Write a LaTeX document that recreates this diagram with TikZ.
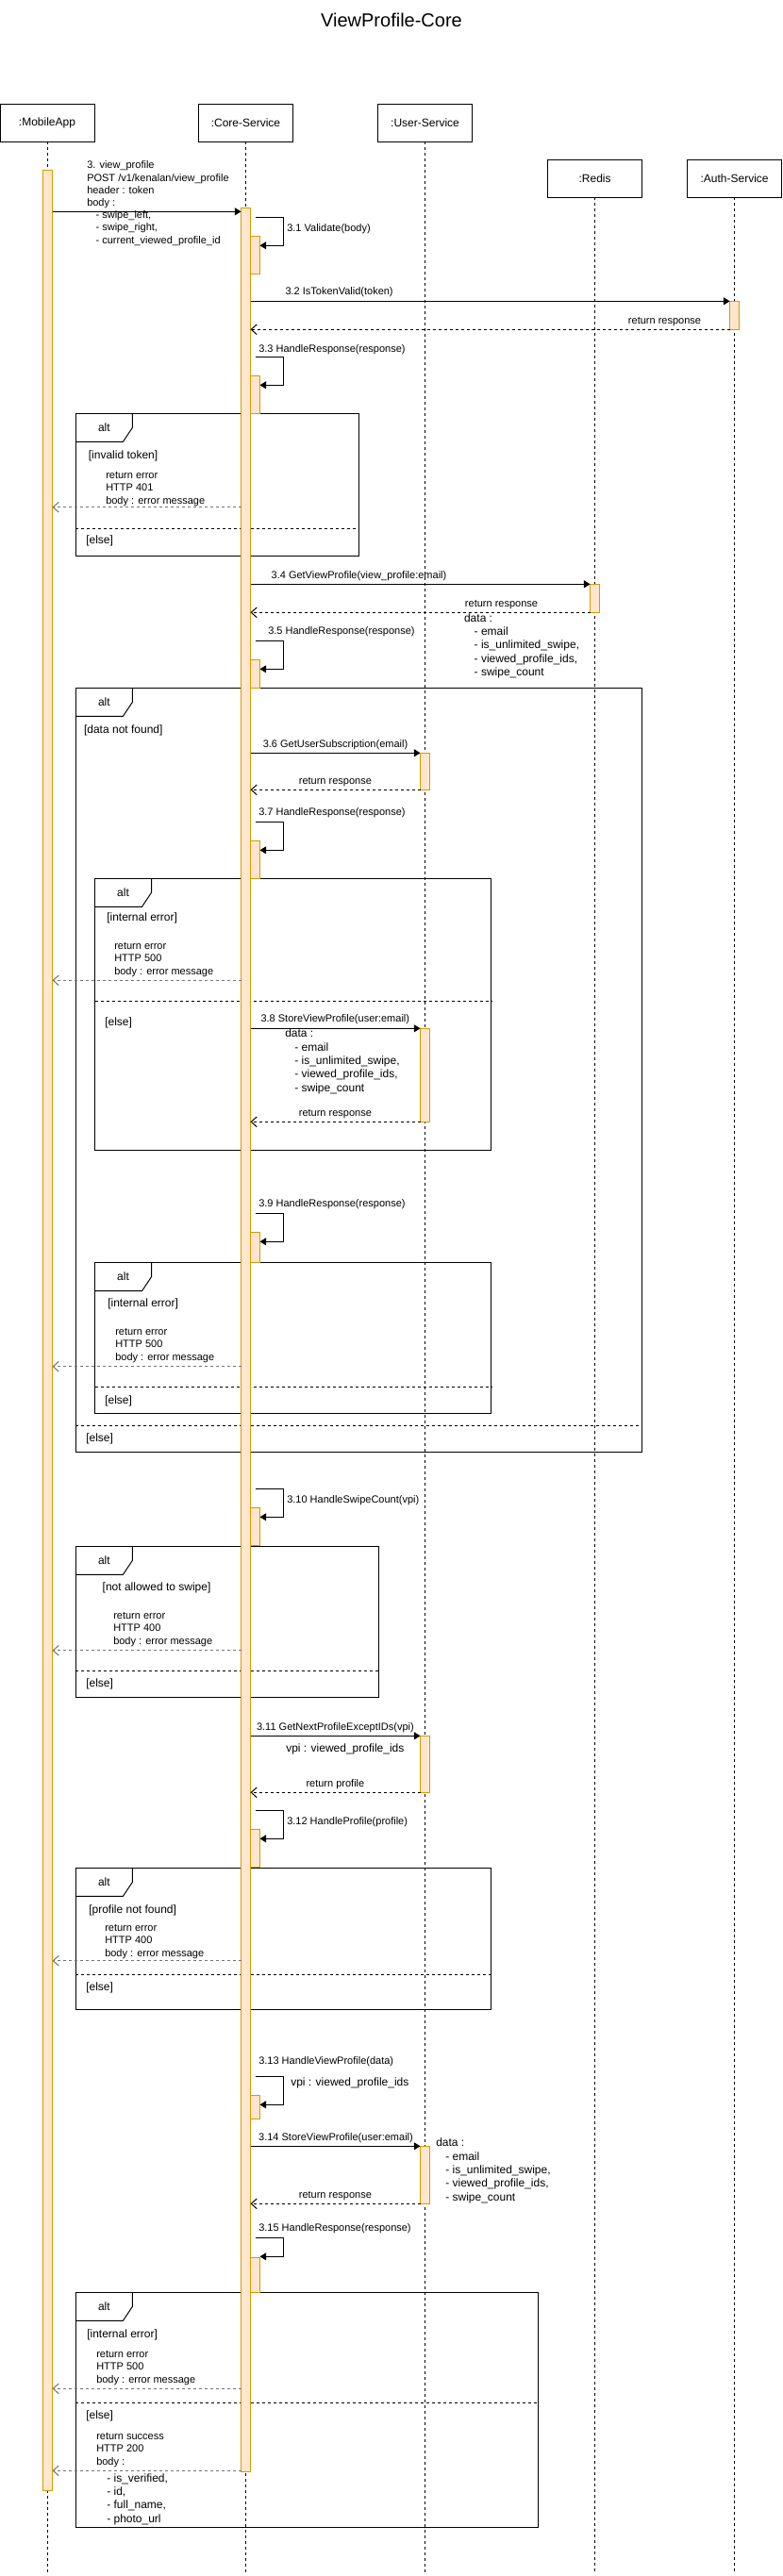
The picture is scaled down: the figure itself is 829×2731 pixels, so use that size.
\documentclass[tikz,border=0pt]{standalone}
\usepackage{fontspec}
\setmainfont{Liberation Sans}
\usetikzlibrary{arrows.meta}
\definecolor{barfill}{HTML}{FFE6CC}
\definecolor{barline}{HTML}{D79B00}
\newcommand\smallfnt{\fontsize{8.25}{9.9}\selectfont}
\newcommand\midfnt{\fontsize{9}{10.8}\selectfont}
\tikzset{
 participant/.style={draw, line width=0.75pt, fill=white, minimum width=75pt, minimum height=30pt, inner sep=0pt, outer sep=0pt, font=\midfnt},
 lifeline/.style={line width=0.75pt, dash pattern=on 2.25pt off 2.25pt},
 actbox/.style={draw=barline, fill=barfill, line width=0.75pt, minimum width=7.5pt, inner sep=0pt, outer sep=0pt, anchor=north west},
 call/.style={line width=0.75pt, -{Triangle[length=5pt,width=6pt]}},
 ret/.style={line width=0.75pt, dash pattern=on 2.25pt off 2.25pt, -{Straight Barb[length=4.5pt,width=8pt]}},
 reterr/.style={ret, draw=black!55},
 framebox/.style={draw, line width=0.75pt},
 divider/.style={line width=0.75pt, dash pattern=on 2.25pt off 2.25pt},
 lbl/.style={font=\smallfnt, inner sep=0pt, text height=6pt, text depth=1.7pt},
 lblb/.style={font=\midfnt, inner sep=0pt, text height=6.6pt, text depth=1.9pt},
}
\newcommand\actbar[4]{\node[actbox, minimum height={(#4-#3)*0.75pt}] (#1) at (#2,#3) {};}
\newcommand\altframe[6]{%
 \draw[framebox] (#2,#3) rectangle (#4,#5);
 \draw[framebox] (#2+60,#3) -- (#2+60,#3+15) -- (#2+50,#3+30) -- (#2,#3+30);
 \node[font=\midfnt, inner sep=0pt] (#1) at (#2+30,#3+14.5) {alt};
 \draw[divider] (#2,#6) -- (#4,#6);}
\newcommand\tlines[6]{%
 \foreach \t [count=\i from 0] in {#6} {\node[#5, anchor=west] (#1-\i) at (#2,#3+\i*#4) {\t};}}
\newcommand\selfcall[3]{\draw[call] (270.7,#2) -| (300.4,#3) -- (#1.east |- 0,#3);}
\begin{document}
\begin{tikzpicture}[x=0.75pt,y=-0.75pt]
\useasboundingbox (0,0) rectangle (829,2731);
\fill[white] (0,0) rectangle (829,2731);
% title
\node[font=\fontsize{15}{18}\selectfont, inner sep=0pt] (title) at (415,21) {ViewProfile-Core};
% participants
\node[participant] (pM) at (50,130) {:MobileApp};
\node[participant] (pC) at (260.5,130) {:Core-Service};
\node[participant] (pU) at (450.5,130) {:User-Service};
\node[participant] (pR) at (630.6,189.3) {:Redis};
\node[participant] (pA) at (778.6,189.3) {:Auth-Service};
% lifelines
\foreach \p in {pM,pC,pU,pR,pA} {\draw[lifeline] (\p.south) -- (\p.south |- 0,2728);}
% alt frames
\altframe{alt1}{80.4}{438.3}{380.8}{589.3}{560.3}
\altframe{alt2}{80.4}{729.3}{680.6}{1539.3}{1511.3}
\altframe{alt3}{100.5}{931.3}{520.9}{1219.3}{1061.3}
\altframe{alt4}{100.5}{1338.7}{520.9}{1498.3}{1470.3}
\altframe{alt5}{80.4}{1639.3}{401.4}{1799.3}{1771.3}
\altframe{alt6}{80.4}{1980.3}{520.9}{2130.3}{2093.3}
\altframe{alt7}{80.4}{2430.3}{570.6}{2679.3}{2547.3}
% activation bars
\actbar{mA}{45.5}{180.3}{2640.3}
\actbar{cM}{255.5}{220.3}{2620}
\actbar{c31}{265.5}{250}{290.3}
\actbar{c33}{265.5}{398.3}{438.3}
\actbar{c35}{265.5}{699.3}{729.3}
\actbar{c37}{265.5}{891.3}{931.3}
\actbar{c39}{265.5}{1306}{1338.7}
\actbar{c310}{265.5}{1598.3}{1638.3}
\actbar{c312}{265.5}{1939.3}{1979.3}
\actbar{c313}{265.5}{2221.3}{2246.3}
\actbar{c315}{265.5}{2393.3}{2430.3}
\actbar{aB}{773.6}{319.3}{349.3}
\actbar{rB}{625.6}{619.3}{649.3}
\actbar{u36}{445.5}{798.3}{837.3}
\actbar{u38}{445.5}{1090.3}{1189.3}
\actbar{u311}{445.5}{1840.3}{1900.3}
\actbar{u314}{445.5}{2275.3}{2336.3}
% 3. view_profile
\draw[call] (mA.east |- 0,224.3) -- (cM.west |- 0,224.3);
\tlines{m3}{92}{176}{13.2}{lbl}{{3. view\_profile}, {POST /v1/kenalan/view\_profile}, {header : token}, {body :}, {\hspace*{7pt}- swipe\_left,}, {\hspace*{7pt}- swipe\_right,}, {\hspace*{7pt}- current\_viewed\_profile\_id}}
% 3.1
\selfcall{c31}{230.3}{260.3}
\node[lbl, anchor=west] (l31) at (304,243) {3.1 Validate(body)};
% 3.2
\draw[call] (cM.east |- 0,319.3) -- (aB.west |- 0,319.3);
\node[lbl] (l32) at (359.6,310) {3.2 IsTokenValid(token)};
\draw[ret] (aB.west |- 0,349.3) -- (cM.east |- 0,349.3);
\node[lbl] (l32r) at (704.5,340.3) {return response};
% 3.3
\selfcall{c33}{378.3}{408.3}
\node[lbl, anchor=west] (l33) at (274,371) {3.3 HandleResponse(response)};
% alt 1
\node[lblb, anchor=west] (g1) at (93.6,483.7) {[invalid token]};
\tlines{e1}{112}{504.3}{13.5}{lbl}{return error, HTTP 401, body : error message}
\draw[reterr] (cM.west |- 0,537.7) -- (mA.east |- 0,537.7);
\node[lblb, anchor=west] (g1e) at (91,573.7) {[else]};
% 3.4
\draw[call] (cM.east |- 0,619.3) -- (rB.west |- 0,619.3);
\node[lbl] (l34) at (380.5,610.3) {3.4 GetViewProfile(view\_profile:email)};
\draw[ret] (rB.west |- 0,649.3) -- (cM.east |- 0,649.3);
\node[lbl] (l34r) at (531.5,640.3) {return response};
\tlines{d34}{491.8}{656}{14.3}{lblb}{{data :}, {\hspace*{8pt}- email}, {\hspace*{8pt}- is\_unlimited\_swipe,}, {\hspace*{8pt}- viewed\_profile\_ids,}, {\hspace*{8pt}- swipe\_count}}
% 3.5
\selfcall{c35}{679.3}{709.3}
\node[lbl, anchor=west] (l35) at (284,669.3) {3.5 HandleResponse(response)};
% alt 2
\node[lblb, anchor=west] (g2) at (88.8,774) {[data not found]};
\draw[call] (cM.east |- 0,798.3) -- (u36.west |- 0,798.3);
\node[lbl] (l36) at (355.5,789.3) {3.6 GetUserSubscription(email)};
\draw[ret] (u36.west |- 0,837.3) -- (cM.east |- 0,837.3);
\node[lbl] (l36r) at (355.4,828.3) {return response};
\selfcall{c37}{871.3}{901.3}
\node[lbl, anchor=west] (l37) at (274,861.3) {3.7 HandleResponse(response)};
% alt 3
\node[lblb, anchor=west] (g3) at (113,973.7) {[internal error]};
\tlines{e3}{121}{1003.3}{13.5}{lbl}{return error, HTTP 500, body : error message}
\draw[reterr] (cM.west |- 0,1039.3) -- (mA.east |- 0,1039.3);
\node[lblb, anchor=west] (g3e) at (111,1084.7) {[else]};
\draw[call] (cM.east |- 0,1090.3) -- (u38.west |- 0,1090.3);
\node[lbl] (l38) at (355.3,1081) {3.8 StoreViewProfile(user:email)};
\tlines{d38}{302}{1096.7}{14.3}{lblb}{{data :}, {\hspace*{7.5pt}- email}, {\hspace*{7.5pt}- is\_unlimited\_swipe,}, {\hspace*{7.5pt}- viewed\_profile\_ids,}, {\hspace*{7.5pt}- swipe\_count}}
\draw[ret] (u38.west |- 0,1189.3) -- (cM.east |- 0,1189.3);
\node[lbl] (l38r) at (355.4,1180.3) {return response};
% 3.9
\selfcall{c39}{1286.3}{1316.3}
\node[lbl, anchor=west] (l39) at (274,1276.3) {3.9 HandleResponse(response)};
% alt 4
\node[lblb, anchor=west] (g4) at (114,1382.7) {[internal error]};
\tlines{e4}{122}{1412.3}{13.5}{lbl}{return error, HTTP 500, body : error message}
\draw[reterr] (cM.west |- 0,1448.7) -- (mA.east |- 0,1448.7);
\node[lblb, anchor=west] (g4e) at (111,1485) {[else]};
\node[lblb, anchor=west] (g2e) at (91,1525) {[else]};
% 3.10
\selfcall{c310}{1578.3}{1608.3}
\node[lbl, anchor=west] (l310) at (304,1591) {3.10 HandleSwipeCount(vpi)};
% alt 5
\node[lblb, anchor=west] (g5) at (108.4,1683.7) {[not allowed to swipe]};
\tlines{e5}{120}{1713.3}{13.5}{lbl}{return error, HTTP 400, body : error message}
\draw[reterr] (cM.west |- 0,1749.7) -- (mA.east |- 0,1749.7);
\node[lblb, anchor=west] (g5e) at (91,1785) {[else]};
% 3.11
\draw[call] (cM.east |- 0,1840.3) -- (u311.west |- 0,1840.3);
\node[lbl] (l311) at (355.4,1831.3) {3.11 GetNextProfileExceptIDs(vpi)};
\node[lblb, anchor=west] (v311) at (303,1854.7) {vpi : viewed\_profile\_ids};
\draw[ret] (u311.west |- 0,1900.3) -- (cM.east |- 0,1900.3);
\node[lbl] (l311r) at (355.4,1891.3) {return profile};
% 3.12
\selfcall{c312}{1919.3}{1949.3}
\node[lbl, anchor=west] (l312) at (304,1932) {3.12 HandleProfile(profile)};
% alt 6
\node[lblb, anchor=west] (g6) at (94,2025) {[profile not found]};
\tlines{e6}{111}{2044.3}{13.5}{lbl}{return error, HTTP 400, body : error message}
\draw[reterr] (cM.west |- 0,2078.7) -- (mA.east |- 0,2078.7);
\node[lblb, anchor=west] (g6e) at (91,2107) {[else]};
% 3.13
\node[lbl, anchor=west] (l313) at (274,2186) {3.13 HandleViewProfile(data)};
\selfcall{c313}{2201.3}{2231.3}
\node[lblb, anchor=west] (v313) at (308,2208.7) {vpi : viewed\_profile\_ids};
% 3.14
\draw[call] (cM.east |- 0,2275.3) -- (u314.west |- 0,2275.3);
\node[lbl] (l314) at (356,2266.3) {3.14 StoreViewProfile(user:email)};
\tlines{d314}{462}{2272.7}{14.3}{lblb}{{data :}, {\hspace*{7.5pt}- email}, {\hspace*{7.5pt}- is\_unlimited\_swipe,}, {\hspace*{7.5pt}- viewed\_profile\_ids,}, {\hspace*{7.5pt}- swipe\_count}}
\draw[ret] (u314.west |- 0,2336.3) -- (cM.east |- 0,2336.3);
\node[lbl] (l314r) at (355.4,2327.3) {return response};
% 3.15
\node[lbl, anchor=west] (l315) at (274,2362.3) {3.15 HandleResponse(response)};
\selfcall{c315}{2372.3}{2392.3}
% alt 7
\node[lblb, anchor=west] (g7) at (92,2475) {[internal error]};
\tlines{e7}{102}{2496.3}{13.5}{lbl}{return error, HTTP 500, body : error message}
\draw[reterr] (cM.west |- 0,2532.3) -- (mA.east |- 0,2532.3);
\node[lblb, anchor=west] (g7e) at (91,2561) {[else]};
\tlines{s7}{102}{2583.3}{13.5}{lbl}{return success, HTTP 200, body :}
\tlines{s7b}{113}{2628}{14.3}{lblb}{{- is\_verified,}, {- id,}, {- full\_name,}, {- photo\_url}}
\draw[reterr] (cM.west |- 0,2619.3) -- (mA.east |- 0,2619.3);
\end{tikzpicture}
\end{document}
